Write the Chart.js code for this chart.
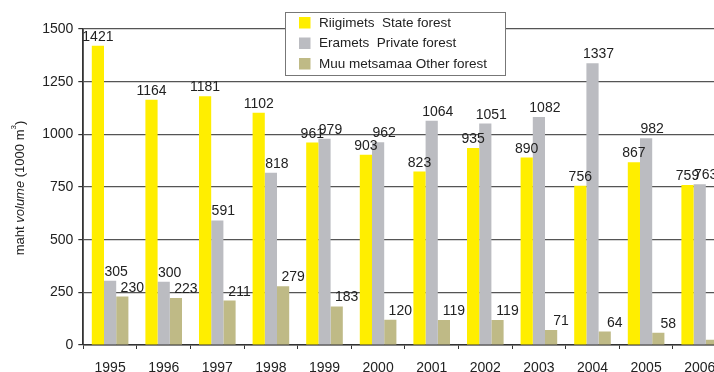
<!DOCTYPE html>
<html>
<head>
<meta charset="utf-8">
<script src="https://cdn.jsdelivr.net/npm/chart.js@4"></script>
<style>
html,body{margin:0;padding:0;background:#fff;overflow:hidden;width:714px;height:372px;}
#wrap{width:740px;height:372px;}
</style>
</head>
<body>
<div id="wrap"><canvas id="c" width="740" height="372"></canvas></div>
<script>
const years = ['1995','1996','1997','1998','1999','2000','2001','2002','2003','2004','2005','2006'];
const stateForest = [1421,1164,1181,1102,961,903,823,935,890,756,867,759];
const privateForest = [305,300,591,818,979,962,1064,1051,1082,1337,982,763];
const otherForest = [230,223,211,279,183,120,119,119,71,64,58,25];
const seriesNames = ['Riigimets  State forest','Eramets  Private forest','Muu metsamaa Other forest'];
const yTicks = [0,250,500,750,1000,1250,1500];

const colors = ['#FFEE00','#BBBCC1','#BFBA86'];
const FONT = "'Liberation Sans', Arial, sans-serif";
const labelShift = [0, 6, 10];

const labelPlugin = {
  id:'valueLabels',
  afterDatasetsDraw(chart){
    const ctx = chart.ctx;
    ctx.save();
    ctx.font = '14px ' + FONT;
    ctx.fillStyle = '#222';
    ctx.textAlign = 'center';
    ctx.textBaseline = 'alphabetic';
    chart.data.datasets.forEach((ds, di) => {
      const meta = chart.getDatasetMeta(di);
      meta.data.forEach((bar, i) => {
        ctx.fillText(String(ds.data[i]), bar.x + labelShift[di], bar.y - 5);
      });
    });
    ctx.restore();
  }
};

const decoPlugin = {
  id:'deco',
  afterDraw(chart){
    const ctx = chart.ctx;
    const area = chart.chartArea;
    // Y axis title
    ctx.save();
    ctx.translate(20, (area.top + area.bottom) / 2 + 1);
    ctx.rotate(-Math.PI / 2);
    ctx.fillStyle = '#222';
    ctx.textBaseline = 'middle';
    const parts = [
      {t:'maht ', f:'13px ' + FONT, dy:0},
      {t:'volume', f:'italic 13px ' + FONT, dy:0},
      {t:' (1000 m', f:'13px ' + FONT, dy:0},
      {t:'3', f:'8px ' + FONT, dy:-6},
      {t:')', f:'13px ' + FONT, dy:0}
    ];
    let total = 0;
    parts.forEach(p => { ctx.font = p.f; p.w = ctx.measureText(p.t).width; total += p.w; });
    let x = -total / 2;
    ctx.textAlign = 'left';
    parts.forEach(p => { ctx.font = p.f; ctx.fillText(p.t, x, p.dy); x += p.w; });
    ctx.restore();

    // Legend box
    ctx.save();
    const bx = 285.5, by = 12.5, bw = 220, bh = 63;
    ctx.fillStyle = '#fff';
    ctx.fillRect(bx, by, bw, bh);
    ctx.strokeStyle = '#777';
    ctx.lineWidth = 1;
    ctx.strokeRect(bx, by, bw, bh);
    ctx.font = '13.5px ' + FONT;
    ctx.textBaseline = 'middle';
    ctx.textAlign = 'left';
    const rows = [22.5, 43, 63.5];
    seriesNames.forEach((name, i) => {
      ctx.fillStyle = colors[i];
      ctx.fillRect(299, rows[i] - 5.5, 11.5, 11.5);
      ctx.fillStyle = '#222';
      ctx.fillText(name, 319, rows[i] + 0.5);
    });
    ctx.restore();
  }
};

new Chart(document.getElementById('c'), {
  type:'bar',
  data:{
    labels: years,
    datasets:[
      {label:seriesNames[0], data:stateForest, backgroundColor:colors[0]},
      {label:seriesNames[1], data:privateForest, backgroundColor:colors[1]},
      {label:seriesNames[2], data:otherForest, backgroundColor:colors[2]}
    ]
  },
  options:{
    responsive:false,
    animation:false,
    devicePixelRatio:1,
    layout:{padding:{top:29, right:13.5, left:0, bottom:0}},
    datasets:{bar:{categoryPercentage:0.683, barPercentage:1, borderWidth:0}},
    plugins:{legend:{display:false}, tooltip:{enabled:false}},
    scales:{
      x:{
        grid:{display:true, drawOnChartArea:false, drawTicks:true, tickLength:4, color:'#333', offset:true},
        border:{display:true, color:'#333', width:1.5},
        ticks:{font:{family:FONT, size:14}, color:'#222', padding:11, maxRotation:0, autoSkip:false},
        afterFit(s){ s.height = 27; }
      },
      y:{
        min:0, max:1500,
        afterBuildTicks(s){ s.ticks = yTicks.map(v => ({value:v})); },
        grid:{color:'#555', lineWidth:1.2, drawTicks:true, tickLength:5, tickColor:'#333'},
        border:{display:true, color:'#333', width:1.8},
        ticks:{font:{family:FONT, size:14}, color:'#222', padding:5, callback:(v) => String(v)},
        afterFit(s){ s.width = 83.3; }
      }
    }
  },
  plugins:[labelPlugin, decoPlugin]
});
</script>
</body>
</html>
